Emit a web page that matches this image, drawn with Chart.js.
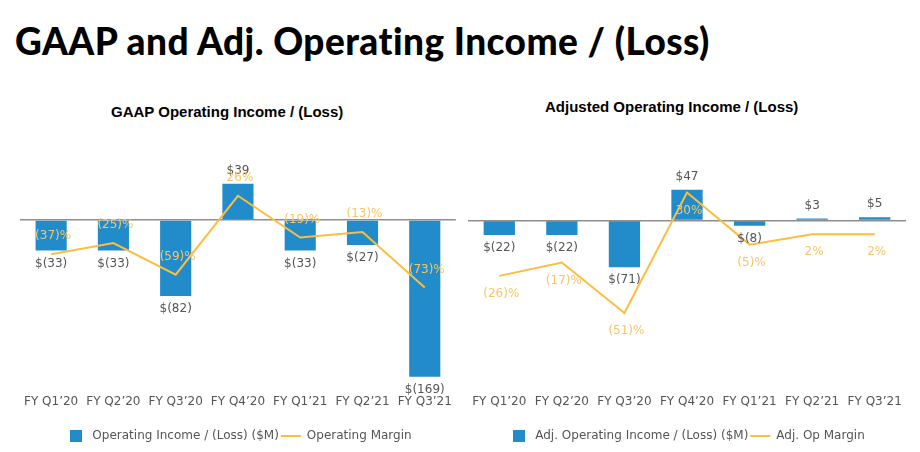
<!DOCTYPE html>
<html>
<head>
<meta charset="utf-8">
<script src="https://cdn.jsdelivr.net/npm/chart.js@4.4.0/dist/chart.umd.min.js"></script>
<style>
  body { margin: 0; background: #fff; width: 920px; height: 452px; position: relative; overflow: hidden; }
  h1 { position: absolute; left: 15px; top: 18px; margin: 0; font-family: Lato, sans-serif; font-weight: 900; font-size: 37px; color: #000; letter-spacing: 0.45px; }
  .sub { position: absolute; margin: 0; font-family: "Liberation Sans", Arial, sans-serif; font-weight: bold; font-size: 15px; line-height: 17px; color: #000; }
  .box { position: absolute; top: 130px; width: 460px; height: 322px; }
</style>
</head>
<body>
<h1>GAAP and Adj. Operating Income / (Loss)</h1>
<div class="sub" style="left:111px; top:103px">GAAP Operating Income / (Loss)</div>
<div class="sub" style="left:545px; top:98px">Adjusted Operating Income / (Loss)</div>
<div class="box" style="left:0"><canvas id="gaap"></canvas></div>
<div class="box" style="left:460px"><canvas id="adj"></canvas></div>
<script>
// quarters
const quarters = ['FY Q1\u201920', 'FY Q2\u201920', 'FY Q3\u201920', 'FY Q4\u201920', 'FY Q1\u201921', 'FY Q2\u201921', 'FY Q3\u201921'];

// GAAP
const gaapIncome = [-33, -33, -82, 39, -33, -27, -169];
const gaapMargin = [-37, -25, -59, 26, -19, -13, -73];

// Adjusted
const adjIncome = [-22, -22, -71, 47, -8, 3, 5];
const adjMargin = [-26, -17, -51, 30, -5, 2, 2];

const BLUE = '#228bca';
const GOLD = '#fdbd3f';
const GOLD_TEXT = '#f8c565';
const GREY = '#555555';
const FONT = 'DejaVu Sans';

function money(v) { return v < 0 ? '$(' + (-v) + ')' : '$' + v; }
function pct(v) { return v < 0 ? '(' + (-v) + ')%' : v + '%'; }

// little legend marker for the bar series
const square = document.createElement('canvas');
square.width = 12; square.height = 12;
square.getContext('2d').fillStyle = BLUE;
square.getContext('2d').fillRect(0, 0, 12, 12);

// draws the value labels next to bars and line points
const valueLabels = {
  id: 'valueLabels',
  afterDatasetsDraw(chart, args, opts) {
    const ctx = chart.ctx;
    ctx.save();
    ctx.font = '12px "' + FONT + '"';
    ctx.textAlign = 'center';
    ctx.textBaseline = 'middle';
    chart.data.datasets.forEach((ds, i) => {
      const meta = chart.getDatasetMeta(i);
      meta.data.forEach((el, j) => {
        const v = ds.data[j];
        if (ds.type === 'bar') {
          ctx.fillStyle = GREY;
          const y = v < 0 ? el.y + 13 : el.y - 13;
          ctx.fillText(money(v), el.x, y);
        } else {
          ctx.fillStyle = GOLD_TEXT;
          ctx.fillText(pct(v), el.x + 2, el.y + opts.marginOffset);
        }
      });
    });
    ctx.restore();
  }
};

function makeChart(id, income, margin, barLabel, lineLabel, yRange, y1Range, pad, marginOffset) {
  return new Chart(document.getElementById(id), {
    data: {
      labels: quarters,
      datasets: [
        { type: 'bar', label: barLabel, data: income, backgroundColor: BLUE, yAxisID: 'y',
          barPercentage: 0.5, categoryPercentage: 1, order: 2, pointStyle: square },
        { type: 'line', label: lineLabel, data: margin, borderColor: GOLD, backgroundColor: GOLD,
          borderWidth: 2, pointRadius: 0, tension: 0, yAxisID: 'y1', order: 1, pointStyle: 'line' }
      ]
    },
    options: {
      responsive: true,
      maintainAspectRatio: false,
      animation: false,
      layout: { padding: pad },
      scales: {
        x: {
          grid: { display: false },
          border: { display: false },
          ticks: { color: GREY, font: { family: FONT, size: 12 }, padding: 8, maxRotation: 0 },
          afterFit: s => { s.height += 11; }
        },
        y: {
          min: yRange[0], max: yRange[1],
          afterBuildTicks: s => { s.ticks = [{ value: 0 }]; },
          ticks: { display: false },
          border: { display: false },
          grid: { drawTicks: false, lineWidth: 1.5, color: c => c.tick && c.tick.value === 0 ? '#8e8e8e' : 'transparent' }
        },
        y1: {
          position: 'right',
          min: y1Range[0], max: y1Range[1],
          ticks: { display: false },
          border: { display: false },
          grid: { display: false, drawTicks: false }
        }
      },
      plugins: {
        legend: {
          position: 'bottom',
          labels: {
            usePointStyle: true, pointStyleWidth: 20, boxHeight: 12,
            color: GREY, font: { family: FONT, size: 12 }, padding: 2,
            sort: (a, b) => a.datasetIndex - b.datasetIndex
          }
        },
        tooltip: { enabled: false },
        valueLabels: { marginOffset: marginOffset }
      }
    },
    plugins: [valueLabels]
  });
}

makeChart('gaap', gaapIncome, gaapMargin, 'Operating Income / (Loss) ($M)', 'Operating Margin',
  [-171.1, 96.9], [-171.1, 96.9], { left: 20, right: 2, top: 0, bottom: 0 }, -18);
makeChart('adj', adjIncome, adjMargin, 'Adj. Operating Income / (Loss) ($M)', 'Adj. Op Margin',
  [-240.6, 137.8], [-95.1, 72.1], { left: 8, right: 14, top: 0, bottom: 0 }, 18);
</script>
</body>
</html>
